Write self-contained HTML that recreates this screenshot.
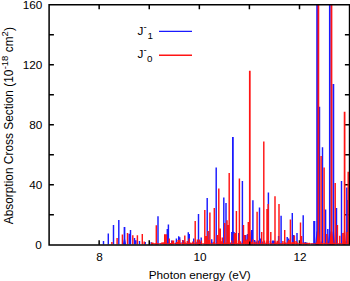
<!DOCTYPE html>
<html><head><meta charset="utf-8"><title>Absorption cross section</title>
<style>
html,body{margin:0;padding:0;background:#fff;}
body{width:350px;height:281px;overflow:hidden;}
svg{display:block;font-family:"Liberation Sans",sans-serif;}
.t path{vector-effect:non-scaling-stroke;}
</style></head>
<body>
<svg width="350" height="281" viewBox="0 0 350 281">
<rect width="350" height="281" fill="#fff"/>
<defs><clipPath id="c"><rect x="49" y="4.75" width="301" height="240.1"/></clipPath></defs>
<g stroke="#000" stroke-width="1.5" fill="none">
<path d="M99.15 244.8v-4.6M149.25 244.8v-4.6M199.35 244.8v-4.6M249.4 244.8v-4.6M299.5 244.8v-4.6"/>
<path d="M99.15 4.75v4.5M149.25 4.75v4.5M199.35 4.75v4.5M249.4 4.75v4.5M299.5 4.75v4.5"/>
<path d="M49.1 34.76h4.8M49.1 64.76h4.8M49.1 94.77h4.8M49.1 124.77h4.8M49.1 154.78h4.8M49.1 184.79h4.8M49.1 214.79h4.8"/>
<path d="M349.5 34.76h-4.6M349.5 64.76h-4.6M349.5 94.77h-4.6M349.5 124.77h-4.6M349.5 154.78h-4.6M349.5 184.79h-4.6M349.5 214.79h-4.6"/>
</g>
<g clip-path="url(#c)" fill="none" stroke-width="1.45">
<path stroke="#1a1aff" d="M103.5 244.6V241.0M108.3 244.6V233.4M113.5 244.6V224.9M118.8 244.6V219.9M129.2 244.6V233.8M130.5 244.6V230.0M134.5 244.6V238.0M135.9 244.6V240.3M139.5 244.6V241.0M145.2 244.6V242.0M151.2 244.6V242.3M158.0 244.6V216.3M167.3 244.6V228.9M168.4 244.6V224.6M171.7 244.6V240.5M176.4 244.6V238.5M178.7 244.6V236.2M179.7 244.6V237.2M182.7 244.6V240.0M183.4 244.6V240.5M188.3 244.6V232.2M189.3 244.6V234.0M193.7 244.6V238.5M198.5 244.6V213.9M201.2 244.6V237.5M206.2 244.6V236.0M207.2 244.6V198.1M208.9 244.6V231.0M211.7 244.6V239.3M216.2 244.6V167.4M220.2 244.6V239.0M223.8 244.6V197.4M226.0 244.6V203.0M228.2 244.6V239.0M231.8 244.6V232.0M234.0 244.6V232.0M238.7 244.6V233.0M242.4 244.6V181.0M245.7 244.6V235.0M247.5 244.6V234.0M251.7 244.6V230.0M252.9 244.6V200.3M254.7 244.6V240.0M259.5 244.6V207.4M260.7 244.6V238.5M268.4 244.6V192.4M272.7 244.6V240.5M273.7 244.6V240.5M278.6 244.6V236.0M281.1 244.6V215.7M287.2 244.6V237.0M288.7 244.6V238.5M292.3 244.6V212.9M293.7 244.6V235.0M297.0 244.6V233.1M303.2 244.6V215.3M305.2 244.6V242.0M306.7 244.6V242.5M313.9 244.6V221.0M314.6 244.6V221.0M319.5 244.6V106.7M322.5 244.6V147.3M325.6 244.6V209.5M327.8 244.6V229.0M336.5 244.6V208.0M341.5 244.6V181.0M344.2 244.6V233.0M346.8 244.6V187.4M347.3 244.6V200.0M152.2 244.6V243.6M156.3 244.6V243.4M160.5 244.6V243.2M163.9 244.6V243.7M165.2 244.6V242.6M166.9 244.6V243.0M168.5 244.6V243.8M169.7 244.6V242.9M175.5 244.6V242.7M177.7 244.6V243.7M182.2 244.6V242.1M187.0 244.6V242.7M190.8 244.6V243.5M193.7 244.6V243.7M195.6 244.6V243.7M197.0 244.6V241.8M200.4 244.6V241.8M204.0 244.6V243.7M206.9 244.6V243.5M212.1 244.6V242.2M216.2 244.6V243.1M217.2 244.6V242.3M218.2 244.6V243.5M219.5 244.6V243.8M220.6 244.6V243.7M222.6 244.6V243.4M227.2 244.6V243.7M228.5 244.6V241.3M230.5 244.6V242.5M233.9 244.6V243.4M236.9 244.6V243.2M242.0 244.6V242.6M242.9 244.6V243.8M247.8 244.6V243.1M249.0 244.6V243.5M256.3 244.6V241.5M258.2 244.6V240.6M260.8 244.6V243.7M262.8 244.6V241.4M266.2 244.6V242.5M268.7 244.6V240.8M270.7 244.6V241.3M271.9 244.6V243.3M273.6 244.6V243.4M274.7 244.6V240.9M279.2 244.6V242.6M280.7 244.6V243.6M284.5 244.6V242.5M287.1 244.6V242.5M299.6 244.6V243.7M301.1 244.6V243.7M311.5 244.6V243.6M313.1 244.6V243.2M314.4 244.6V241.8M316.0 244.6V242.9M320.5 244.6V243.7M321.4 244.6V241.5M324.5 244.6V243.4M330.7 244.6V241.4M336.4 244.6V243.4M337.9 244.6V243.5M339.0 244.6V243.8M341.6 244.6V242.7M343.0 244.6V243.8M346.1 244.6V241.3M347.6 244.6V241.3"/>
<path stroke="#1a1aff" stroke-width="1.75" d="M124.5 244.6V227.0M232.9 244.6V137.1M317.1 244.6V4.0M329.8 244.6V4.0M333.4 244.6V83.9"/>
<path fill="#1a1aff" stroke="none" d="M122.8 244.6L123.9 239.3H125.1L126.2 244.6ZM230.8 244.6L232.3 231.6H233.5L235.0 244.6ZM315.1 244.6L316.5 231.6H317.7L319.1 244.6ZM327.8 244.6L329.2 231.6H330.4L331.8 244.6ZM331.7 244.6L332.8 231.6H334.0L335.1 244.6Z"/>
<path stroke="#ff1414" d="M111.9 244.6V242.0M117.1 244.6V238.0M122.4 244.6V234.6M127.5 244.6V233.0M132.8 244.6V235.3M137.4 244.6V235.3M142.3 244.6V233.9M144.2 244.6V241.5M151.7 244.6V242.4M152.8 244.6V242.6M156.3 244.6V225.3M161.8 244.6V242.6M163.2 244.6V242.3M164.7 244.6V234.3M166.2 244.6V234.3M169.3 244.6V238.5M172.2 244.6V240.5M173.5 244.6V240.5M176.8 244.6V242.0M178.2 244.6V240.0M179.7 244.6V239.5M182.8 244.6V240.3M184.8 244.6V235.5M187.3 244.6V241.0M189.2 244.6V238.5M190.8 244.6V242.5M192.8 244.6V241.5M195.2 244.6V221.0M197.4 244.6V239.5M199.2 244.6V239.5M201.4 244.6V240.5M204.8 244.6V210.0M206.3 244.6V236.0M207.8 244.6V231.0M208.8 244.6V240.0M209.9 244.6V212.4M214.3 244.6V208.0M217.3 244.6V235.0M218.8 244.6V188.6M220.3 244.6V228.5M222.3 244.6V237.5M224.7 244.6V223.0M227.0 244.6V220.3M228.3 244.6V225.0M229.2 244.6V173.1M234.3 244.6V233.5M235.3 244.6V233.0M236.4 244.6V211.0M239.4 244.6V178.6M243.5 244.6V225.0M244.8 244.6V235.0M246.8 244.6V239.5M248.3 244.6V222.0M252.8 244.6V239.5M257.1 244.6V211.7M261.7 244.6V232.0M263.8 244.6V141.4M267.0 244.6V209.0M268.2 244.6V204.0M270.8 244.6V232.0M275.0 244.6V196.3M277.4 244.6V241.0M279.0 244.6V204.0M282.9 244.6V241.0M284.7 244.6V230.0M288.9 244.6V240.0M290.4 244.6V219.6M294.4 244.6V235.5M300.5 244.6V222.5M301.5 244.6V236.0M304.4 244.6V242.5M306.9 244.6V242.8M321.1 244.6V156.0M324.1 244.6V167.4M326.8 244.6V234.0M335.2 244.6V183.1M337.4 244.6V225.0M339.8 244.6V235.7M342.9 244.6V233.0M347.2 244.6V232.0M348.2 244.6V171.7M153.5 244.6V243.8M154.9 244.6V243.8M156.9 244.6V243.4M157.9 244.6V243.7M162.3 244.6V243.8M170.7 244.6V243.0M171.9 244.6V242.5M173.2 244.6V243.0M179.2 244.6V243.7M180.2 244.6V242.7M183.7 244.6V242.9M185.2 244.6V242.2M188.4 244.6V242.7M192.2 244.6V243.8M198.0 244.6V242.8M201.4 244.6V243.3M204.8 244.6V243.5M207.9 244.6V243.2M210.0 244.6V242.2M213.8 244.6V241.8M221.2 244.6V241.2M223.7 244.6V243.7M225.8 244.6V242.8M229.0 244.6V240.7M231.8 244.6V240.5M234.7 244.6V241.6M238.5 244.6V240.5M240.4 244.6V241.3M243.8 244.6V241.9M245.3 244.6V240.7M250.3 244.6V240.9M251.8 244.6V242.1M252.8 244.6V242.0M254.8 244.6V241.7M259.4 244.6V240.7M264.5 244.6V240.5M266.8 244.6V240.6M275.9 244.6V242.4M277.2 244.6V240.8M282.2 244.6V243.6M285.7 244.6V242.5M288.0 244.6V241.6M289.7 244.6V241.6M291.1 244.6V242.2M292.7 244.6V241.9M294.2 244.6V242.8M296.1 244.6V241.0M297.2 244.6V242.5M301.8 244.6V242.0M303.9 244.6V243.6M305.6 244.6V243.6M307.8 244.6V243.5M309.2 244.6V242.7M317.0 244.6V242.2M318.0 244.6V240.5M322.2 244.6V242.9M326.2 244.6V242.4M327.2 244.6V243.8M328.7 244.6V243.7M332.5 244.6V243.8M333.9 244.6V243.2M340.1 244.6V243.3M343.6 244.6V241.7M344.7 244.6V242.8"/>
<path stroke="#ff1414" stroke-width="1.75" d="M249.8 244.6V70.7M318.4 244.6V4.0M331.5 244.6V4.0M344.6 244.6V111.7"/>
<path fill="#ff1414" stroke="none" d="M248.2 244.6L249.2 231.6H250.3L251.3 244.6ZM316.2 244.6L317.8 231.6H319.0L320.5 244.6ZM329.1 244.6L330.9 231.6H332.1L333.8 244.6ZM343.0 244.6L343.9 231.6H345.2L346.1 244.6Z"/>
<path stroke="#ff1414" stroke-width="0.9" stroke-opacity="0.75" d="M152 243.5H349"/>
</g>
<path d="M249.7 244.8v-3.2" stroke="#000" stroke-width="1.3"/>
<g stroke="#000" stroke-width="1.5" fill="none">
<path d="M350 4.75H49.1V244.95H350"/>
<path d="M349.55 4.75V244.85"/>
</g>
<g class="t" font-family="'Liberation Sans',sans-serif" font-size="11.75px" fill="#000">
<text x="42.4" y="8.5" text-anchor="end">160</text><text x="42.4" y="68.5" text-anchor="end">120</text><text x="42.4" y="128.5" text-anchor="end">80</text><text x="42.4" y="188.5" text-anchor="end">40</text><text x="41.8" y="248.5" text-anchor="end">0</text>
<text x="99.4" y="260.6" text-anchor="middle">8</text><text x="200" y="260.6" text-anchor="middle">10</text><text x="300" y="260.6" text-anchor="middle">12</text>
<text x="199.7" y="278.6" text-anchor="middle">Photon energy (eV)</text>
<text transform="translate(12.7 224.3) rotate(-90)" font-size="11.9px"><tspan x="0" y="0">Absorption Cross Section (10</tspan><tspan x="154.96" y="-4.6" font-size="9.5px">-18</tspan><tspan x="172.04" y="0">cm</tspan><tspan x="187.92" y="-4.6" font-size="9.5px">2</tspan><tspan x="193.23" y="0">)</tspan></text>
<text><tspan x="137.6" y="35.2">J</tspan><tspan x="143.48" y="29.5" font-size="9.6px">-</tspan><tspan x="147.39" y="38.7" font-size="9.8px">1</tspan></text>
<text><tspan x="137.6" y="58.4">J</tspan><tspan x="143.48" y="52.7" font-size="9.6px">-</tspan><tspan x="147.02" y="62.2" font-size="9.8px">0</tspan></text>
</g>
<path d="M159 31.3H192" stroke="#1a1aff" stroke-width="1.35"/>
<path d="M159 55.2H192" stroke="#ff1414" stroke-width="1.35"/>
</svg>
</body></html>
